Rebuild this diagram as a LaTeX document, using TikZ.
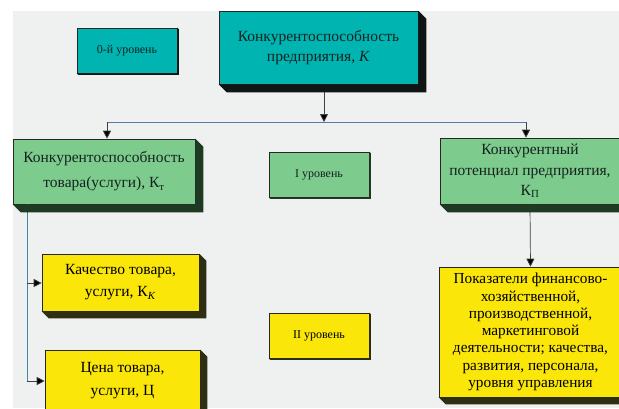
\documentclass[tikz,border=0pt]{standalone}
\usepackage{fontspec}
\setmainfont{Liberation Serif}
\usetikzlibrary{arrows.meta,calc}
\definecolor{bgc}{HTML}{EFF1F1}
\definecolor{tealc}{HTML}{00B4B2}
\definecolor{greenc}{HTML}{7DCB8D}
\definecolor{yellowc}{HTML}{FBE60A}
\definecolor{tealsh}{HTML}{111414}
\definecolor{greensh}{HTML}{1E3A22}
\definecolor{yellowsh}{HTML}{2E2E12}
\definecolor{linec}{HTML}{5A78A8}
\definecolor{treec}{HTML}{3F86A0}
\definecolor{txtc}{HTML}{14231F}
\newcommand\bxshadow[3]{\fill[#3] (#1.south west) -- ++(#2,#2) -- ($(#1.south east)+(#2,#2)$) -- ($(#1.north east)+(#2,#2)$) -- (#1.north east) -- (#1.south east) -- cycle;}
\begin{document}
\begin{tikzpicture}[x=1pt,y=-1pt,
  bx/.style={draw=black!85, line width=0.6pt, inner sep=0pt, align=center, text=txtc},
  tealbox/.style={bx, fill=tealc},
  greenbox/.style={bx, fill=greenc},
  yellowbox/.style={bx, fill=yellowc, text=black},
  lvl/.style={font=\fontsize{12}{14}\selectfont},
  arr/.style={draw=black!75, line width=0.7pt, -{Triangle[width=8pt,length=8pt,fill=black]}},
  hl/.style={draw=linec, line width=0.8pt},
  tl/.style={draw=treec, line width=0.8pt}]
\useasboundingbox (0,0) rectangle (619,408);
\clip (0,0) rectangle (619,408);
\fill[white] (0,0) rectangle (619,408);
\fill[bgc] (13,11) rectangle (619,408);

% junction coordinates
\coordinate (j) at (324,122);
\coordinate (jl) at (107,122);
\coordinate (jr) at (526,122);
\coordinate (ttop) at (27,204);
\coordinate (t1) at (27,283);
\coordinate (t2) at (27,381);

% nodes (positions only)
\node[tealbox, minimum width=100pt, minimum height=45pt, lvl] (lvl0) at (127,50.5) {0-й уровень};
\node[tealbox, minimum width=199pt, minimum height=73pt, font=\fontsize{15.5}{20}\selectfont] (main) at (318.5,47.5) {Конкурентоспособность\\предприятия, \textit{К}};
\node[greenbox, minimum width=182pt, minimum height=65pt, font=\fontsize{15.5}{25}\selectfont] (gL) at (104,171.5) {Конкурентоспособность\\товара(услуги), К\textsubscript{т}};
\node[greenbox, minimum width=100pt, minimum height=45pt, lvl] (lvl1) at (319,174.5) {I уровень};
\node[greenbox, minimum width=180pt, minimum height=66pt, font=\fontsize{15.5}{20.5}\selectfont] (gR) at (530,171) {Конкурентный\\потенциал предприятия,\\К\textsubscript{П}};
\node[yellowbox, minimum width=157pt, minimum height=57pt, font=\fontsize{15.5}{22}\selectfont] (y1) at (120.5,282.5) {Качество товара,\\услуги, К\textsubscript{\textit{К}}};
\node[yellowbox, minimum width=100pt, minimum height=45pt, lvl] (lvl2) at (319,335.5) {II уровень};
\node[yellowbox, minimum width=155pt, minimum height=62pt, font=\fontsize{15.5}{23}\selectfont] (y2) at (122.5,381) {Цена товара,\\услуги, Ц};
\node[yellowbox, minimum width=183pt, minimum height=130pt, font=\fontsize{15.3}{17.3}\selectfont] (yR) at (530.5,332) {Показатели финансово-\\хозяйственной,\\производственной,\\маркетинговой\\деятельности; качества,\\развития, персонала,\\уровня управления};

% connectors
\draw[arr] (main.south -| j) -- (j);
\draw[hl] (jl) -- (jr);
\draw[arr] (jl) -- (jl |- gL.north);
\draw[arr] (jr) -- (jr |- gR.north);
\draw[arr] (gR.south) -- (yR.north);
\draw[tl] (ttop) -- (t2);
\draw[arr] (t1) -- (t1 -| y1.west);
\draw[arr] (t2) -- (t2 -| y2.west);

% shadows
\bxshadow{main}{8}{tealsh}
\bxshadow{lvl0}{1.5}{tealsh}
\bxshadow{gL}{8}{greensh}
\bxshadow{gR}{8}{greensh}
\bxshadow{lvl1}{1.5}{greensh}
\bxshadow{y1}{7}{yellowsh}
\bxshadow{y2}{7}{yellowsh}
\bxshadow{yR}{7}{yellowsh}
\bxshadow{lvl2}{1.5}{yellowsh}
\end{tikzpicture}
\end{document}
